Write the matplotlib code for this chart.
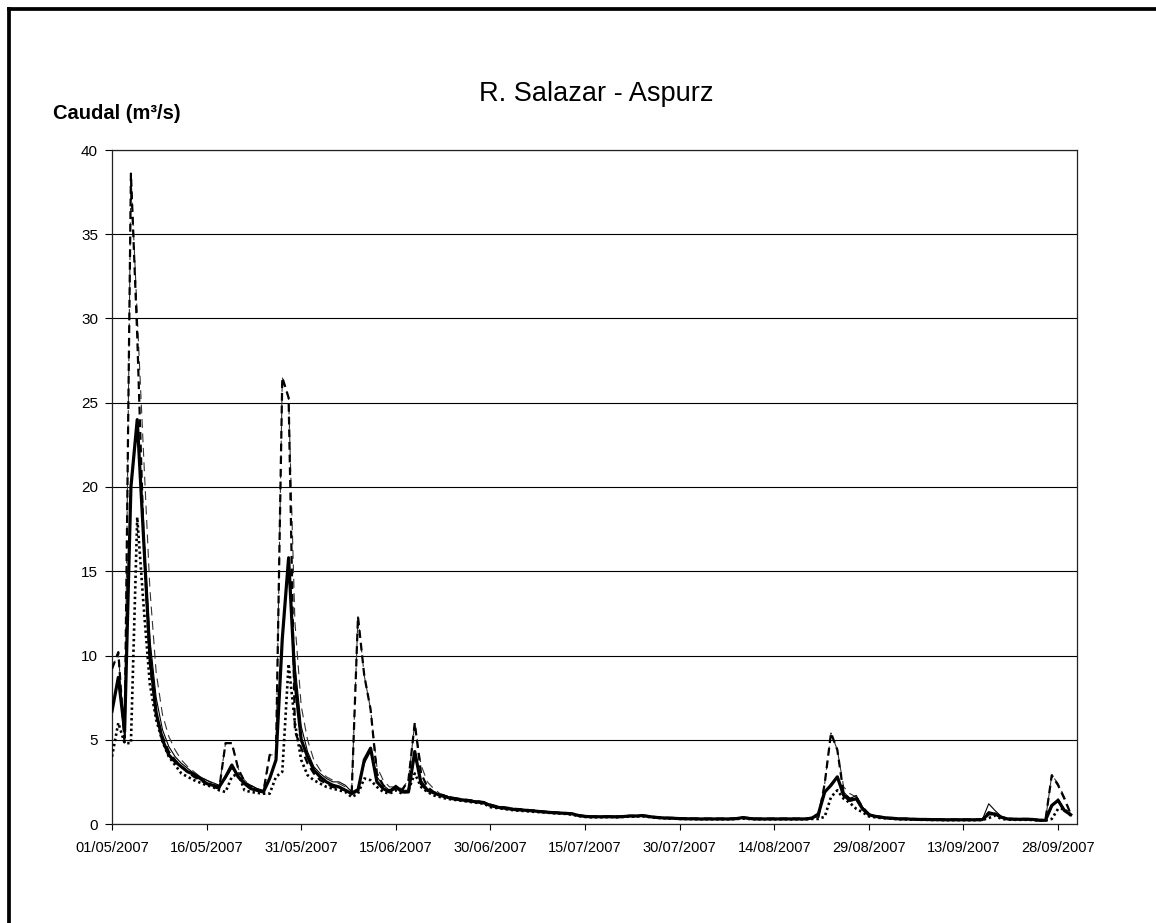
import numpy as np
import pandas as pd
import matplotlib
matplotlib.use("Agg")
import matplotlib.pyplot as plt
from matplotlib.lines import Line2D

plt.rcParams['font.family'] = ['Liberation Sans', 'DejaVu Sans']

# daily flows 01/05/2007 - 30/09/2007 (m3/s)
start_date = '2007-05-01'
n_days = 153

caudal_grueso = [
    6.7, 8.7, 5.5, 20.0, 24.0, 17.0, 10.0, 6.6, 5.0, 4.1,
    3.7, 3.4, 3.1, 2.95, 2.7, 2.4, 2.3, 2.2, 2.8, 3.5,
    2.8, 2.4, 2.1, 2.0, 1.9, 2.7, 3.8, 11.0, 15.8, 8.5,
    5.0, 4.0, 3.2, 2.8, 2.5, 2.3, 2.2, 2.0, 1.8, 2.0,
    3.8, 4.5, 2.5, 2.1, 1.9, 2.2, 1.9, 1.9, 4.3, 2.4,
    2.0, 1.85, 1.7, 1.6, 1.5, 1.45, 1.4, 1.35, 1.3, 1.25,
    1.1, 1.0, 0.95, 0.9, 0.85, 0.83, 0.8, 0.77, 0.73, 0.7,
    0.67, 0.65, 0.63, 0.6, 0.5, 0.45, 0.43, 0.43, 0.43, 0.43,
    0.42, 0.44, 0.47, 0.47, 0.5, 0.45, 0.4, 0.37, 0.35, 0.34,
    0.32, 0.31, 0.31, 0.3, 0.3, 0.3, 0.3, 0.3, 0.3, 0.32,
    0.38, 0.33, 0.3, 0.3, 0.3, 0.3, 0.3, 0.3, 0.3, 0.3,
    0.3, 0.35, 0.6, 1.9, 2.3, 2.8, 1.7, 1.4, 1.5, 0.9,
    0.55, 0.45, 0.4, 0.35, 0.33, 0.3, 0.3, 0.28, 0.27, 0.27,
    0.26, 0.26, 0.25, 0.25, 0.25, 0.25, 0.25, 0.25, 0.26, 0.6,
    0.6, 0.4, 0.3, 0.28, 0.28, 0.28, 0.27, 0.22, 0.22, 1.1,
    1.4, 0.8, 0.55,
]

caudal_fino = [
    6.7, 8.7, 5.5, 20.0, 24.0, 17.5, 11.0, 7.5, 5.6, 4.6,
    4.0, 3.6, 3.3, 3.0, 2.8, 2.6, 2.45, 2.3, 2.7, 3.3,
    2.9, 2.5, 2.3, 2.1, 2.0, 2.7, 3.8, 11.0, 15.8, 9.5,
    5.8, 4.3, 3.4, 3.0, 2.7, 2.5, 2.5, 2.3, 1.9, 2.1,
    3.6, 4.3, 2.8, 2.3, 2.0, 2.3, 2.0, 2.0, 4.0, 2.6,
    2.1, 1.9, 1.75, 1.65, 1.55, 1.5, 1.45, 1.4, 1.35, 1.3,
    1.15, 1.05, 1.0, 0.95, 0.9, 0.86, 0.82, 0.79, 0.75, 0.72,
    0.69, 0.66, 0.64, 0.61, 0.52, 0.47, 0.45, 0.44, 0.45, 0.47,
    0.47, 0.45, 0.48, 0.49, 0.52, 0.46, 0.41, 0.38, 0.36, 0.34,
    0.33, 0.32, 0.32, 0.31, 0.31, 0.31, 0.31, 0.31, 0.31, 0.33,
    0.39, 0.34, 0.31, 0.31, 0.31, 0.31, 0.31, 0.31, 0.31, 0.31,
    0.31, 0.36, 0.55, 1.8, 2.4, 2.8, 1.9, 1.5, 1.7, 1.0,
    0.6, 0.48, 0.42, 0.36, 0.34, 0.31, 0.31, 0.29, 0.28, 0.28,
    0.27, 0.27, 0.26, 0.26, 0.26, 0.26, 0.26, 0.26, 0.27, 1.2,
    0.8, 0.45, 0.3, 0.29, 0.29, 0.29, 0.28, 0.23, 0.23, 1.0,
    1.5, 0.85, 0.6,
]

caudal_max = [
    9.2, 10.2, 4.8, 38.6, 29.0, 17.0, 9.5, 6.5, 5.2, 4.3,
    3.8, 3.4, 3.1, 2.8, 2.6, 2.4, 2.2, 2.1, 4.8, 4.8,
    3.3, 2.5, 2.2, 2.0, 1.9, 4.1, 4.1, 26.5, 25.3, 5.5,
    4.5, 3.6, 3.0, 2.6, 2.4, 2.2, 2.1, 2.0, 1.8, 12.3,
    8.8, 6.8, 3.0, 2.3, 2.0, 2.1, 2.0, 2.6, 6.0, 3.0,
    2.2, 1.9, 1.75, 1.65, 1.55, 1.5, 1.45, 1.4, 1.35, 1.3,
    1.15, 1.05, 1.0, 0.95, 0.9, 0.87, 0.83, 0.8, 0.76, 0.72,
    0.7, 0.67, 0.65, 0.62, 0.52, 0.47, 0.45, 0.45, 0.45, 0.45,
    0.44, 0.46, 0.49, 0.49, 0.52, 0.47, 0.42, 0.39, 0.37, 0.36,
    0.34, 0.33, 0.32, 0.32, 0.32, 0.32, 0.32, 0.32, 0.32, 0.34,
    0.4, 0.35, 0.32, 0.32, 0.32, 0.32, 0.32, 0.32, 0.32, 0.32,
    0.32, 0.37, 0.4, 2.4, 5.4, 4.4, 1.8, 1.5, 1.6, 1.0,
    0.6, 0.48, 0.42, 0.37, 0.35, 0.32, 0.32, 0.3, 0.29, 0.29,
    0.28, 0.28, 0.27, 0.27, 0.27, 0.27, 0.27, 0.27, 0.28, 0.7,
    0.6, 0.42, 0.32, 0.3, 0.3, 0.3, 0.29, 0.24, 0.24, 2.9,
    2.3, 1.5, 0.6,
]

caudal_max2 = [
    9.2, 10.2, 4.8, 38.6, 30.2, 22.0, 14.0, 9.0, 6.5, 5.2,
    4.4, 3.8, 3.4, 3.1, 2.8, 2.6, 2.4, 2.2, 4.8, 4.8,
    3.3, 2.6, 2.3, 2.1, 2.0, 4.1, 4.1, 26.5, 25.3, 12.0,
    7.0, 5.0, 3.8, 3.2, 2.8, 2.6, 2.4, 2.2, 2.0, 12.3,
    8.8, 6.8, 3.4, 2.6, 2.2, 2.2, 2.1, 2.6, 6.0, 3.5,
    2.5, 2.1, 1.8, 1.7, 1.6, 1.5, 1.45, 1.4, 1.35, 1.3,
    1.15, 1.05, 1.0, 0.95, 0.9, 0.87, 0.83, 0.8, 0.76, 0.72,
    0.7, 0.67, 0.65, 0.62, 0.52, 0.47, 0.45, 0.45, 0.45, 0.45,
    0.44, 0.46, 0.49, 0.49, 0.52, 0.47, 0.42, 0.39, 0.37, 0.36,
    0.34, 0.33, 0.32, 0.32, 0.32, 0.32, 0.32, 0.32, 0.32, 0.34,
    0.4, 0.35, 0.32, 0.32, 0.32, 0.32, 0.32, 0.32, 0.32, 0.32,
    0.32, 0.37, 0.4, 2.4, 5.4, 4.4, 2.2, 1.8, 1.6, 1.0,
    0.6, 0.48, 0.42, 0.37, 0.35, 0.32, 0.32, 0.3, 0.29, 0.29,
    0.28, 0.28, 0.27, 0.27, 0.27, 0.27, 0.27, 0.27, 0.28, 0.7,
    0.6, 0.42, 0.32, 0.3, 0.3, 0.3, 0.29, 0.24, 0.24, 2.9,
    2.4, 1.6, 0.6,
]

caudal_min = [
    4.0, 6.0, 4.8, 4.8, 18.2, 13.0, 8.3, 6.2, 4.9, 4.0,
    3.5, 3.0, 2.8, 2.6, 2.45, 2.3, 2.2, 2.0, 1.9, 2.8,
    3.0, 2.0, 1.9, 1.85, 1.8, 1.8, 2.8, 3.1, 9.5, 6.0,
    3.8, 2.9, 2.6, 2.4, 2.2, 2.1, 2.0, 1.9, 1.6, 1.8,
    2.7, 2.6, 2.2, 1.9, 1.8, 2.0, 1.8, 2.0, 3.0, 2.2,
    1.9, 1.7, 1.6, 1.5, 1.45, 1.4, 1.35, 1.3, 1.25, 1.2,
    1.0, 0.95, 0.9, 0.85, 0.8, 0.78, 0.75, 0.72, 0.7, 0.67,
    0.64, 0.62, 0.6, 0.55, 0.47, 0.42, 0.4, 0.4, 0.4, 0.42,
    0.4, 0.42, 0.44, 0.44, 0.46, 0.42, 0.38, 0.35, 0.33, 0.32,
    0.3, 0.3, 0.29, 0.28, 0.28, 0.28, 0.28, 0.28, 0.28, 0.3,
    0.32, 0.3, 0.28, 0.28, 0.28, 0.28, 0.28, 0.28, 0.28, 0.28,
    0.28, 0.3, 0.3, 0.43, 1.6, 2.0, 1.5, 1.25, 0.9, 0.7,
    0.45, 0.4, 0.35, 0.33, 0.3, 0.28, 0.27, 0.26, 0.25, 0.25,
    0.24, 0.24, 0.23, 0.23, 0.23, 0.23, 0.23, 0.23, 0.24, 0.35,
    0.5, 0.3, 0.26, 0.25, 0.25, 0.25, 0.24, 0.2, 0.2, 0.3,
    0.9, 0.9, 0.5,
]

tick_labels = ['01/05/2007', '16/05/2007', '31/05/2007', '15/06/2007',
               '30/06/2007', '15/07/2007', '30/07/2007', '14/08/2007',
               '29/08/2007', '13/09/2007', '28/09/2007']

fechas = pd.date_range(start_date, periods=n_days, freq='D')

fig = plt.figure(figsize=(11.56, 9.23), dpi=100)
ax = fig.add_axes([112/1156, 1 - 824/923, (1077-112)/1156, (824-150)/923])

# series
ax.plot(fechas, caudal_max2, color='#333333', lw=0.8, dashes=(8, 5), zorder=3)
ax.plot(fechas, caudal_max, color='black', lw=1.6, dashes=(3.5, 2.2), zorder=4)
ax.plot(fechas, caudal_min, color='black', lw=1.9, linestyle=(0, (0.9, 1.1)), zorder=4)
ax.plot(fechas, caudal_fino, color='black', lw=0.8, zorder=5)
ax.plot(fechas, caudal_grueso, color='black', lw=2.3, zorder=6)

ax.set_ylim(0, 40)
ax.set_yticks(np.arange(0, 41, 5))
ax.set_xlim(pd.Timestamp('2007-05-01'), pd.Timestamp('2007-10-01'))
ax.set_xticks(pd.to_datetime(tick_labels, format='%d/%m/%Y'))
ax.set_xticklabels(tick_labels)

ax.yaxis.grid(True, color='black', lw=0.8)
ax.set_axisbelow(True)
for s in ax.spines.values():
    s.set_linewidth(0.9)
    s.set_color('#222222')

ax.tick_params(axis='y', direction='out', length=5, width=0.8, pad=5, labelsize=11)
ax.tick_params(axis='x', direction='out', length=4, width=0.8, pad=8, labelsize=10.5)

fig.text(596/1156, 1 - 101/923, 'R. Salazar - Aspurz', ha='center', va='baseline', fontsize=19.5)
fig.text(53/1156, 1 - 119/923, 'Caudal (m³/s)', ha='left', va='baseline',
         fontsize=14.5, fontweight='bold')

# outer frame (only top and left edges visible)
fig.add_artist(Line2D([9/1156, 1.01], [1 - 9/923, 1 - 9/923], transform=fig.transFigure,
                      color='black', lw=2.7))
fig.add_artist(Line2D([9/1156, 9/1156], [1 - 9/923, -0.01], transform=fig.transFigure,
                      color='black', lw=2.7))

fig.savefig('out.png', dpi=100)
